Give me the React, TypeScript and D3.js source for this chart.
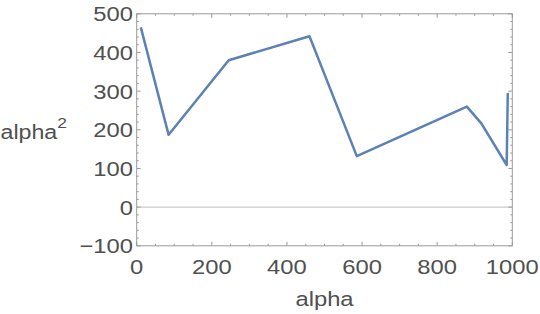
import React from "react";
import * as d3 from "d3";

const xs = [11, 85, 245, 460, 586, 879, 918, 985, 988];
const ys = [465, 187, 380, 442, 132, 260, 216, 109, 295];
const xMajor = [0, 200, 400, 600, 800, 1000];
const yMajor = [-100, 0, 100, 200, 300, 400, 500];
const xMinor = d3.range(0, 1001, 50);
const yMinor = d3.range(-100, 501, 20);

const W = 540, H = 314;
const L = 136.7, R = 512.3, T = 13.8, B = 245.8;
const SX = 1.16;

export default function App() {
  const x = d3.scaleLinear().domain([0, 1000]).range([L, R]);
  const y = d3.scaleLinear().domain([-100, 500]).range([B, T]);
  const pts: [number, number][] = xs.map((v, i) => [v, ys[i]]);
  const line = d3.line<[number, number]>().x(d => x(d[0])).y(d => y(d[1]));
  const font = "'Liberation Sans', Arial, sans-serif";
  const tc = "#505050";
  const fc = "#9a9a9a";
  const tf = (tx: number, ty: number) => `translate(${tx},${ty}) scale(${SX},1)`;
  return (
    <svg width={W} height={H} style={{ position: "absolute", left: 0, top: 0 }}>
      <rect width={W} height={H} fill="#fff" />
      <line x1={L} x2={R} y1={y(0)} y2={y(0)} stroke="#c0c0c0" strokeWidth={1} />
      {xMinor.map(v => {
        const major = v % 200 === 0;
        const len = major ? 4 : 2;
        return (
          <g key={"x" + v}>
            <line x1={x(v)} x2={x(v)} y1={B} y2={B - len} stroke={fc} />
            <line x1={x(v)} x2={x(v)} y1={T} y2={T + len} stroke={fc} />
          </g>
        );
      })}
      {yMinor.map(v => {
        const major = v % 100 === 0;
        const len = major ? 4 : 2;
        return (
          <g key={"y" + v}>
            <line x1={L} x2={L + len} y1={y(v)} y2={y(v)} stroke={fc} />
            <line x1={R} x2={R - len} y1={y(v)} y2={y(v)} stroke={fc} />
          </g>
        );
      })}
      <rect x={L} y={T} width={R - L} height={B - T} fill="none" stroke={fc} strokeWidth={1} />
      <path d={line(pts) || ""} fill="none" stroke="#5E81B5" strokeWidth={2.5} strokeLinejoin="round" />
      {xMajor.map(v => (
        <text key={"xl" + v} transform={tf(x(v), 273.5)} textAnchor="middle" fontFamily={font} fontSize={20.5} fill={tc}>
          {v}
        </text>
      ))}
      {yMajor.map(v => (
        <text key={"yl" + v} transform={tf(133, y(v))} dy="0.36em" textAnchor="end" fontFamily={font} fontSize={20.5} fill={tc}>
          {v < 0 ? "\u2212" + Math.abs(v) : v}
        </text>
      ))}
      <text transform={tf((L + R) / 2, 306)} textAnchor="middle" fontFamily={font} fontSize={20.5} fill={tc}>alpha</text>
      <text transform={tf(0.5, 139.3)} fontFamily={font} fontSize={20} fill={tc}>
        alpha<tspan fontSize={15} dy={-11}>2</tspan>
      </text>
    </svg>
  );
}
